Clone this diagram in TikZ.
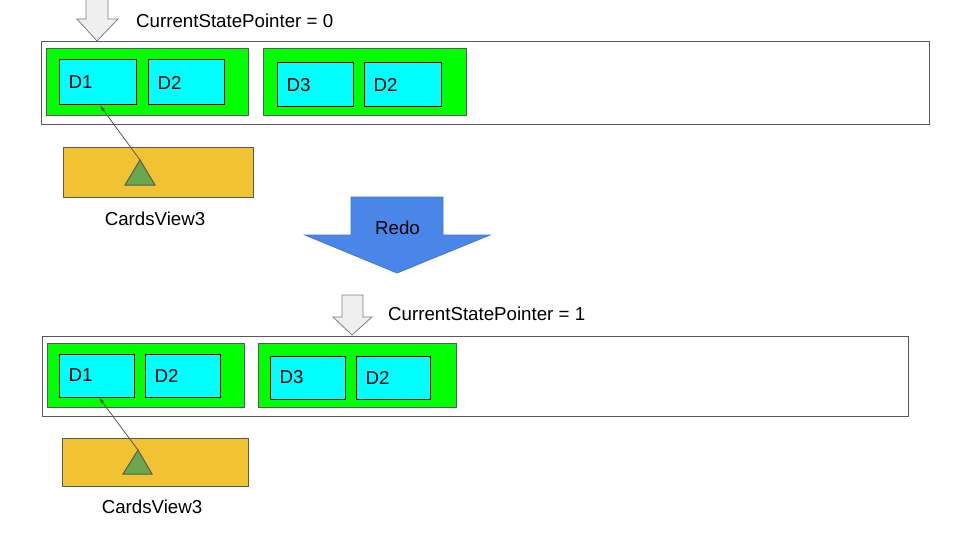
\documentclass[tikz,border=0pt]{standalone}
\usepackage{fontspec}
\setmainfont{Liberation Sans}
\usetikzlibrary{fit,arrows.meta}
\definecolor{bordergray}{HTML}{595959}
\definecolor{boxgreen}{HTML}{00FF00}
\definecolor{boxcyan}{HTML}{00FFFF}
\definecolor{viewyellow}{HTML}{F1C232}
\definecolor{trigreen}{HTML}{6AA84F}
\definecolor{redoblue}{HTML}{4A86E8}
\definecolor{redoedge}{HTML}{3C78D8}
\definecolor{ptrfill}{HTML}{EFEFEF}
\definecolor{ptredge}{HTML}{7F7F7F}
\tikzset{
  every node/.style={font=\fontsize{18.7}{22}\selectfont},
  outerbox/.style={draw=bordergray, line width=1pt, fill=white, inner sep=0pt},
  greenbox/.style={draw=bordergray, line width=1pt, fill=boxgreen, inner sep=0pt},
  dbox/.style={draw=black, line width=1pt, fill=boxcyan, inner sep=0pt},
  viewbox/.style={draw=bordergray, line width=1pt, fill=viewyellow, inner sep=0pt},
  tri/.style={draw=bordergray, line width=1pt, fill=trigreen},
  ptrarrow/.style={draw=ptredge, line width=0.8pt, fill=ptrfill},
  redoarrow/.style={draw=redoedge, line width=0.8pt, fill=redoblue},
  link/.style={draw=bordergray, line width=0.8pt, -{Latex[length=6pt,width=4pt]}},
  txt/.style={inner sep=0pt},
  dlabel/.style={label={[txt, anchor=west, xshift=10pt]west:#1}}
}
\begin{document}
\begin{tikzpicture}[x=1pt,y=-1pt]
\useasboundingbox (0,0) rectangle (960,540);

% ---------- top state ----------
\draw[ptrarrow] (86,-5) -- (86,19) -- (77,19) -- (97,41) -- (118,19) -- (108,19) -- (108,-5) -- cycle;
\node[txt, anchor=base west] (ptr1) at (136,28) {CurrentStatePointer = 0};

\node[outerbox, fit={(41,42) (929,125)}] (o1) {};
\node[greenbox, fit={(46,49) (248,116)}] (g1) {};
\node[dbox, fit={(59,60) (136,105)}, dlabel=D1] (a1) {};
\node[dbox, fit={(148,60) (224,105)}, dlabel=D2] (a2) {};
\node[greenbox, fit={(263,49) (466,116)}] (g2) {};
\node[dbox, fit={(277,63) (353,107)}, dlabel=D3] (a3) {};
\node[dbox, fit={(364,63) (441,107)}, dlabel=D2] (a4) {};

\node[viewbox, fit={(63,148) (253,197)}] (v1) {};
\coordinate (t1) at (140,160);
\draw[tri] (125,185) -- (t1) -- (155,185) -- cycle;
\draw[link] (t1) -- ([xshift=2.5pt]a1.south);
\node[txt, anchor=base] (cv1) at (155,225) {CardsView3};

% ---------- redo arrow ----------
\draw[redoarrow] (351,197) -- (443,197) -- (443,235) -- (490,235) -- (397,273) -- (305,235) -- (351,235) -- cycle;
\node[txt, anchor=base] (redo) at (397.5,234) {Redo};

% ---------- bottom state ----------
\draw[ptrarrow] (342,295) -- (342,317) -- (333,317) -- (352,335) -- (372,317) -- (363,317) -- (363,295) -- cycle;
\node[txt, anchor=base west] (ptr2) at (388,320) {CurrentStatePointer = 1};

\node[outerbox, fit={(42,336) (908,416)}] (o2) {};
\node[greenbox, fit={(47,343) (244,407)}] (g3) {};
\node[dbox, fit={(59,354) (134,397)}, dlabel=D1] (b1) {};
\node[dbox, fit={(145,354) (220,397)}, dlabel=D2] (b2) {};
\node[greenbox, fit={(258,343) (456,407)}] (g4) {};
\node[dbox, fit={(270,356) (345,399)}, dlabel=D3] (b3) {};
\node[dbox, fit={(356,356) (430,399)}, dlabel=D2] (b4) {};

\node[viewbox, fit={(62,438) (248,486)}] (v2) {};
\coordinate (t2) at (138,450);
\draw[tri] (123,474) -- (t2) -- (152,474) -- cycle;
\draw[link] (t2) -- ([xshift=2.5pt]b1.south);
\node[txt, anchor=base] (cv2) at (152,513) {CardsView3};
\end{tikzpicture}
\end{document}
